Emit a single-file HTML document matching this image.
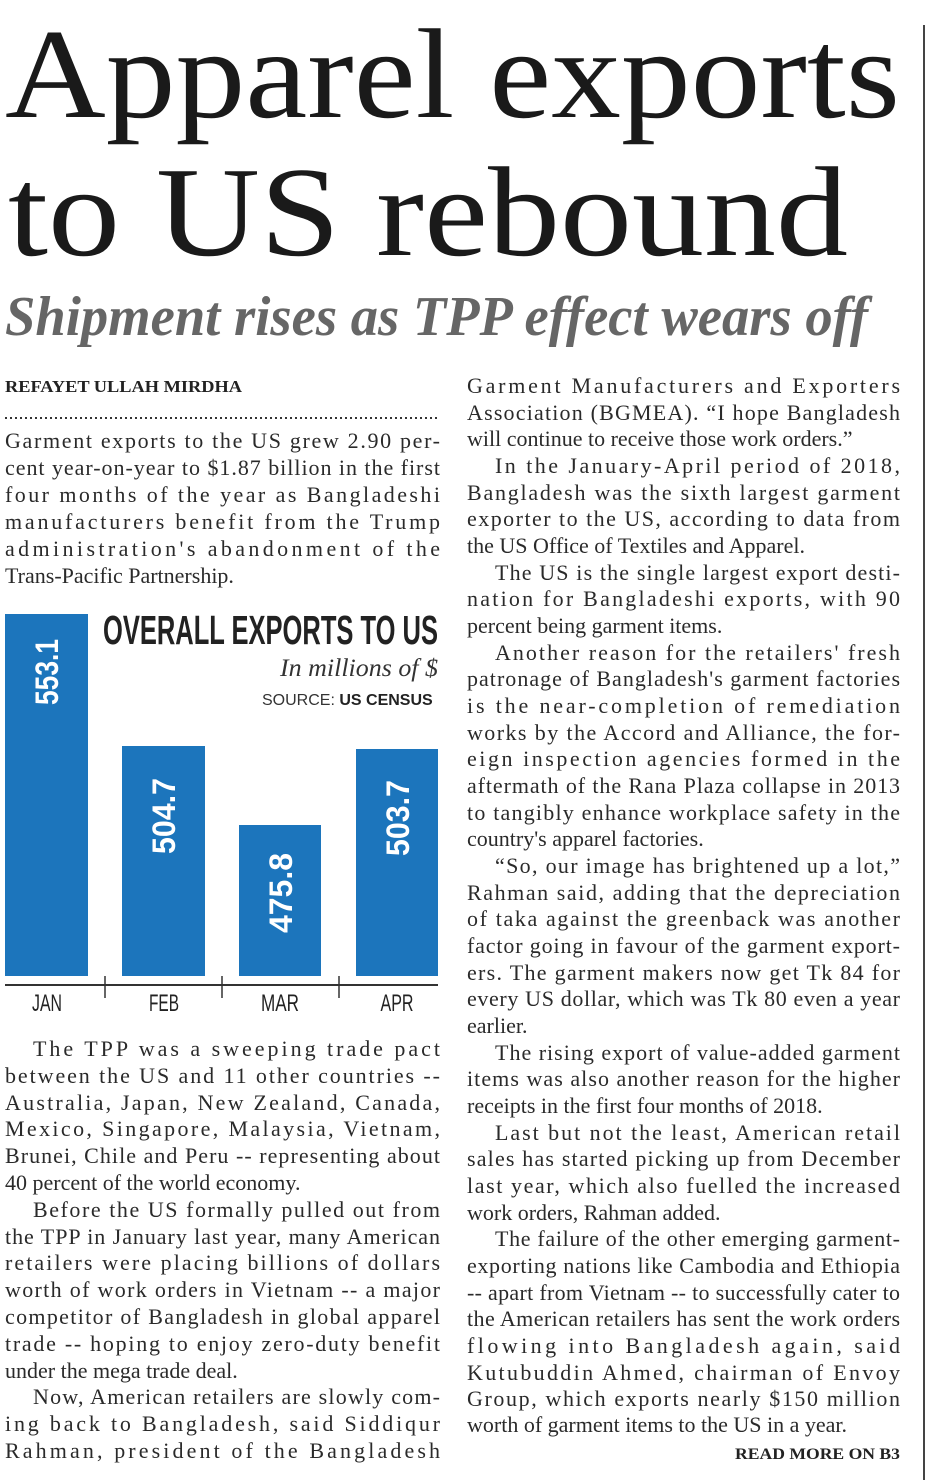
<!DOCTYPE html>
<html><head><meta charset="utf-8"><style>
html,body{margin:0;padding:0;background:#fff;}
svg{display:block;}
.b{font-family:"Liberation Serif",serif;font-size:22px;fill:#2a2a2a;}
</style></head><body>
<svg width="930" height="1480" viewBox="0 0 930 1480" xmlns="http://www.w3.org/2000/svg">
<rect width="930" height="1480" fill="#fff"/>
<line x1="924" y1="25" x2="924" y2="1480" stroke="#444" stroke-width="2"/>
<text x="5" y="117" font-family="Liberation Serif,serif" font-size="128" fill="#1a1a1a" textLength="895" lengthAdjust="spacingAndGlyphs">Apparel exports</text>
<text x="8" y="255" font-family="Liberation Serif,serif" font-size="128" fill="#1a1a1a" textLength="840" lengthAdjust="spacingAndGlyphs">to US rebound</text>
<text x="5" y="335" font-family="Liberation Serif,serif" font-style="italic" font-weight="bold" font-size="56" fill="#666" textLength="863" lengthAdjust="spacingAndGlyphs">Shipment rises as TPP effect wears off</text>

<text x="5" y="392" font-family="Liberation Serif,serif" font-weight="bold" font-size="17" fill="#222" textLength="237" lengthAdjust="spacingAndGlyphs">REFAYET ULLAH MIRDHA</text>
<line x1="5" y1="418" x2="440" y2="418" stroke="#333" stroke-width="2" stroke-dasharray="2,3"/>

<g class="b">
<text x="5" y="448" textLength="435" lengthAdjust="spacing">Garment exports to the US grew 2.90 per-</text>
<text x="5" y="475" textLength="435" lengthAdjust="spacing">cent year-on-year to $1.87 billion in the first</text>
<text x="5" y="502" textLength="435" lengthAdjust="spacing">four months of the year as Bangladeshi</text>
<text x="5" y="529" textLength="435" lengthAdjust="spacing">manufacturers benefit from the Trump</text>
<text x="5" y="556" textLength="435" lengthAdjust="spacing">administration's abandonment of the</text>
<text x="5" y="583">Trans-Pacific Partnership.</text>

<text x="33" y="1056" textLength="407" lengthAdjust="spacing">The TPP was a sweeping trade pact</text>
<text x="5" y="1083" textLength="435" lengthAdjust="spacing">between the US and 11 other countries --</text>
<text x="5" y="1110" textLength="435" lengthAdjust="spacing">Australia, Japan, New Zealand, Canada,</text>
<text x="5" y="1136" textLength="435" lengthAdjust="spacing">Mexico, Singapore, Malaysia, Vietnam,</text>
<text x="5" y="1163" textLength="435" lengthAdjust="spacing">Brunei, Chile and Peru -- representing about</text>
<text x="5" y="1190">40 percent of the world economy.</text>
<text x="33" y="1217" textLength="407" lengthAdjust="spacing">Before the US formally pulled out from</text>
<text x="5" y="1244" textLength="435" lengthAdjust="spacing">the TPP in January last year, many American</text>
<text x="5" y="1270" textLength="435" lengthAdjust="spacing">retailers were placing billions of dollars</text>
<text x="5" y="1297" textLength="435" lengthAdjust="spacing">worth of work orders in Vietnam -- a major</text>
<text x="5" y="1324" textLength="435" lengthAdjust="spacing">competitor of Bangladesh in global apparel</text>
<text x="5" y="1351" textLength="435" lengthAdjust="spacing">trade -- hoping to enjoy zero-duty benefit</text>
<text x="5" y="1378">under the mega trade deal.</text>
<text x="33" y="1404" textLength="407" lengthAdjust="spacing">Now, American retailers are slowly com-</text>
<text x="5" y="1431" textLength="435" lengthAdjust="spacing">ing back to Bangladesh, said Siddiqur</text>
<text x="5" y="1458" textLength="435" lengthAdjust="spacing">Rahman, president of the Bangladesh</text>
</g>

<g class="b">
<text x="467" y="393" textLength="433" lengthAdjust="spacing">Garment Manufacturers and Exporters</text>
<text x="467" y="420" textLength="433" lengthAdjust="spacing">Association (BGMEA). “I hope Bangladesh</text>
<text x="467" y="446">will continue to receive those work orders.”</text>
<text x="495" y="473" textLength="405" lengthAdjust="spacing">In the January-April period of 2018,</text>
<text x="467" y="500" textLength="433" lengthAdjust="spacing">Bangladesh was the sixth largest garment</text>
<text x="467" y="526" textLength="433" lengthAdjust="spacing">exporter to the US, according to data from</text>
<text x="467" y="553">the US Office of Textiles and Apparel.</text>
<text x="495" y="580" textLength="405" lengthAdjust="spacing">The US is the single largest export desti-</text>
<text x="467" y="606" textLength="433" lengthAdjust="spacing">nation for Bangladeshi exports, with 90</text>
<text x="467" y="633">percent being garment items.</text>
<text x="495" y="660" textLength="405" lengthAdjust="spacing">Another reason for the retailers' fresh</text>
<text x="467" y="686" textLength="433" lengthAdjust="spacing">patronage of Bangladesh's garment factories</text>
<text x="467" y="713" textLength="433" lengthAdjust="spacing">is the near-completion of remediation</text>
<text x="467" y="740" textLength="433" lengthAdjust="spacing">works by the Accord and Alliance, the for-</text>
<text x="467" y="766" textLength="433" lengthAdjust="spacing">eign inspection agencies formed in the</text>
<text x="467" y="793" textLength="433" lengthAdjust="spacing">aftermath of the Rana Plaza collapse in 2013</text>
<text x="467" y="820" textLength="433" lengthAdjust="spacing">to tangibly enhance workplace safety in the</text>
<text x="467" y="846">country's apparel factories.</text>
<text x="495" y="873" textLength="405" lengthAdjust="spacing">“So, our image has brightened up a lot,”</text>
<text x="467" y="900" textLength="433" lengthAdjust="spacing">Rahman said, adding that the depreciation</text>
<text x="467" y="926" textLength="433" lengthAdjust="spacing">of taka against the greenback was another</text>
<text x="467" y="953" textLength="433" lengthAdjust="spacing">factor going in favour of the garment export-</text>
<text x="467" y="980" textLength="433" lengthAdjust="spacing">ers. The garment makers now get Tk 84 for</text>
<text x="467" y="1006" textLength="433" lengthAdjust="spacing">every US dollar, which was Tk 80 even a year</text>
<text x="467" y="1033">earlier.</text>
<text x="495" y="1060" textLength="405" lengthAdjust="spacing">The rising export of value-added garment</text>
<text x="467" y="1086" textLength="433" lengthAdjust="spacing">items was also another reason for the higher</text>
<text x="467" y="1113">receipts in the first four months of 2018.</text>
<text x="495" y="1140" textLength="405" lengthAdjust="spacing">Last but not the least, American retail</text>
<text x="467" y="1166" textLength="433" lengthAdjust="spacing">sales has started picking up from December</text>
<text x="467" y="1193" textLength="433" lengthAdjust="spacing">last year, which also fuelled the increased</text>
<text x="467" y="1220">work orders, Rahman added.</text>
<text x="495" y="1246" textLength="405" lengthAdjust="spacing">The failure of the other emerging garment-</text>
<text x="467" y="1273" textLength="433" lengthAdjust="spacing">exporting nations like Cambodia and Ethiopia</text>
<text x="467" y="1300" textLength="433" lengthAdjust="spacing">-- apart from Vietnam -- to successfully cater to</text>
<text x="467" y="1326" textLength="433" lengthAdjust="spacing">the American retailers has sent the work orders</text>
<text x="467" y="1353" textLength="433" lengthAdjust="spacing">flowing into Bangladesh again, said</text>
<text x="467" y="1380" textLength="433" lengthAdjust="spacing">Kutubuddin Ahmed, chairman of Envoy</text>
<text x="467" y="1406" textLength="433" lengthAdjust="spacing">Group, which exports nearly $150 million</text>
<text x="467" y="1432">worth of garment items to the US in a year.</text>
</g>
<text x="735" y="1459" font-family="Liberation Serif,serif" font-weight="bold" font-size="16" fill="#222" textLength="165" lengthAdjust="spacingAndGlyphs">READ MORE ON B3</text>

<!-- chart -->
<g fill="#1c75bc">
<rect x="5" y="614" width="83" height="362"/>
<rect x="122" y="746" width="83" height="230"/>
<rect x="239" y="825" width="82" height="151"/>
<rect x="356" y="749" width="82" height="227"/>
</g>
<g font-family="Liberation Sans,sans-serif" font-weight="bold" font-size="32" fill="#fff" text-anchor="middle">
<text transform="translate(58,672) rotate(-90)" textLength="66" lengthAdjust="spacingAndGlyphs">553.1</text>
<text transform="translate(175,816) rotate(-90)" textLength="76" lengthAdjust="spacingAndGlyphs">504.7</text>
<text transform="translate(292,893) rotate(-90)" textLength="80" lengthAdjust="spacingAndGlyphs">475.8</text>
<text transform="translate(409,818) rotate(-90)" textLength="76" lengthAdjust="spacingAndGlyphs">503.7</text>
</g>
<line x1="5" y1="985" x2="438" y2="985" stroke="#333" stroke-width="2"/>
<g stroke="#333" stroke-width="1.5">
<line x1="105" y1="976" x2="105" y2="998"/>
<line x1="222" y1="976" x2="222" y2="998"/>
<line x1="339" y1="976" x2="339" y2="998"/>
</g>
<g font-family="Liberation Sans,sans-serif" font-size="24" fill="#222" text-anchor="middle">
<text x="47" y="1011" textLength="30" lengthAdjust="spacingAndGlyphs">JAN</text>
<text x="164" y="1011" textLength="30" lengthAdjust="spacingAndGlyphs">FEB</text>
<text x="280" y="1011" textLength="38" lengthAdjust="spacingAndGlyphs">MAR</text>
<text x="397" y="1011" textLength="33" lengthAdjust="spacingAndGlyphs">APR</text>
</g>
<text x="103" y="644" font-family="Liberation Sans,sans-serif" font-weight="bold" font-size="41" fill="#222" textLength="335" lengthAdjust="spacingAndGlyphs">OVERALL EXPORTS TO US</text>
<text x="438" y="676" text-anchor="end" font-family="Liberation Serif,serif" font-style="italic" font-size="25" fill="#333" textLength="158" lengthAdjust="spacingAndGlyphs">In millions of $</text>
<text x="262" y="705" font-family="Liberation Sans,sans-serif" font-size="16" fill="#333">SOURCE: <tspan font-weight="bold" fill="#222">US CENSUS</tspan></text>
</svg>
</body></html>
